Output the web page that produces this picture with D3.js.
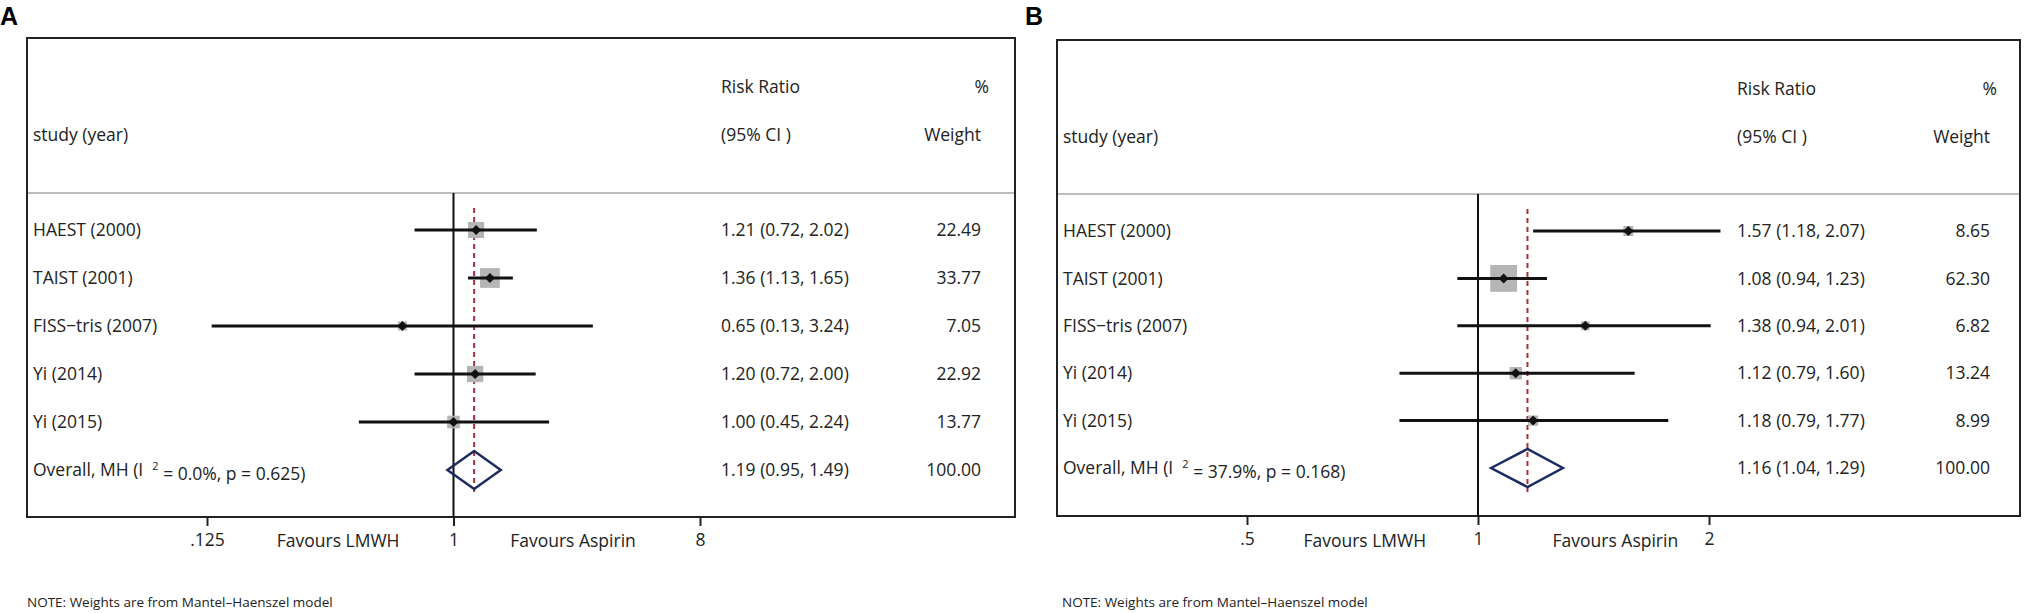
<!DOCTYPE html>
<html>
<head>
<meta charset="utf-8">
<script src="https://cdn.jsdelivr.net/npm/d3@7"></script>
<style>
  body { margin: 0; background: #fff; }
  svg { display: block; font-family: "Open Sans", sans-serif; }
  .axis path.domain { display: none; }
  .axis line { stroke: #222; stroke-width: 2; }
  .axis text { font-family: "Open Sans", sans-serif; font-size: 17.5px; fill: #222; }
</style>
</head>
<body>
<svg></svg>
<script>
/* data */
var studies = ["HAEST (2000)", "TAIST (2001)", "FISS\u2212tris (2007)", "Yi (2014)", "Yi (2015)"];

var rrA = [1.21, 1.36, 0.65, 1.20, 1.00];
var loA = [0.72, 1.13, 0.13, 0.72, 0.45];
var hiA = [2.02, 1.65, 3.24, 2.00, 2.24];
var weightA = [22.49, 33.77, 7.05, 22.92, 13.77];
var overallA = [1.19, 0.95, 1.49];
var hetA = ["0.0%", "0.625"];
var ticksA = [0.125, 1, 8];
var tickLabelsA = [".125", "1", "8"];

var rrB = [1.57, 1.08, 1.38, 1.12, 1.18];
var loB = [1.18, 0.94, 0.94, 0.79, 0.79];
var hiB = [2.07, 1.23, 2.01, 1.60, 1.77];
var weightB = [8.65, 62.30, 6.82, 13.24, 8.99];
var overallB = [1.16, 1.04, 1.29];
var hetB = ["37.9%", "0.168"];
var ticksB = [0.5, 1, 2];
var tickLabelsB = [".5", "1", "2"];

/* svg setting */
var svgWidth = 2034;
var svgHeight = 613;
var svg = d3.select("svg")
    .attr("width", svgWidth)
    .attr("height", svgHeight);

var panels = [
  {letter: "A", rr: rrA, lo: loA, hi: hiA, w: weightA, overall: overallA, het: hetA,
   ticks: ticksA, tickLabels: tickLabelsA, fav: [0.378, 2.74],
   box: {left: 27, right: 1015, top: 38, sep: 193, bottom: 517},
   xDomain: [0.125, 8], xRange: [207, 700], rowRange: [230, 470],
   col: {study: 33, ci: 721, weight: 981, pct: 989}, head: [87, 135], letterX: 0},
  {letter: "B", rr: rrB, lo: loB, hi: hiB, w: weightB, overall: overallB, het: hetB,
   ticks: ticksB, tickLabels: tickLabelsB, fav: [0.712, 1.51],
   box: {left: 1057, right: 2020, top: 40, sep: 194, bottom: 516},
   xDomain: [0.5, 2], xRange: [1247, 1709], rowRange: [231, 468],
   col: {study: 1063, ci: 1737, weight: 1990, pct: 1997}, head: [89, 137], letterX: 1025}
];

panels.forEach(drawPanel);

function drawPanel(p){
  var g = svg.append("g");
  var b = p.box;

  var x = d3.scaleLog().base(2)
      .domain(p.xDomain)
      .range(p.xRange);
  var y = d3.scalePoint()
      .domain(d3.range(studies.length + 1))
      .range(p.rowRange);

  var rows = studies.map(function(s, i){
    return {name: s, rr: p.rr[i], lo: p.lo[i], hi: p.hi[i], w: p.w[i], i: i};
  });

  /* panel letter */
  g.append("text")
      .attr("x", p.letterX)
      .attr("y", 25)
      .style("font-family", "'Liberation Sans', Arial, sans-serif")
      .style("font-weight", "bold")
      .style("font-size", "25px")
      .text(p.letter);

  /* frame */
  g.append("line")
      .attr("x1", b.left).attr("x2", b.right)
      .attr("y1", b.sep).attr("y2", b.sep)
      .attr("stroke", "#bdbdbd").attr("stroke-width", 2);
  g.append("rect")
      .attr("x", b.left).attr("y", b.top)
      .attr("width", b.right - b.left).attr("height", b.bottom - b.top)
      .attr("fill", "none").attr("stroke", "#222").attr("stroke-width", 2);

  /* null line */
  g.append("line")
      .attr("x1", x(1)).attr("x2", x(1))
      .attr("y1", b.sep).attr("y2", b.bottom)
      .attr("stroke", "#111").attr("stroke-width", 2);

  /* overall dashed line */
  g.append("line")
      .attr("x1", x(p.overall[0])).attr("x2", x(p.overall[0]))
      .attr("y1", b.sep + 15).attr("y2", b.bottom - 24)
      .attr("stroke", "#a3303a").attr("stroke-width", 2)
      .attr("stroke-dasharray", "5,4");

  /* weight boxes */
  g.selectAll("rect.wbox")
      .data(rows)
      .enter()
      .append("rect")
      .attr("class", "wbox")
      .attr("x", function(d){ return x(d.rr) - 1.7 * Math.sqrt(d.w); })
      .attr("y", function(d){ return y(d.i) - 1.7 * Math.sqrt(d.w); })
      .attr("width", function(d){ return 3.4 * Math.sqrt(d.w); })
      .attr("height", function(d){ return 3.4 * Math.sqrt(d.w); })
      .attr("fill", "#b5b5b5");

  /* confidence intervals */
  g.selectAll("line.ci")
      .data(rows)
      .enter()
      .append("line")
      .attr("class", "ci")
      .attr("x1", function(d){ return x(d.lo); })
      .attr("x2", function(d){ return x(d.hi); })
      .attr("y1", function(d){ return y(d.i); })
      .attr("y2", function(d){ return y(d.i); })
      .attr("stroke", "#111").attr("stroke-width", 3);

  /* point estimates */
  g.selectAll("path.pt")
      .data(rows)
      .enter()
      .append("path")
      .attr("class", "pt")
      .attr("d", function(d){
        var cx = x(d.rr), cy = y(d.i);
        return "M" + (cx - 5) + "," + cy + "L" + cx + "," + (cy - 5) +
               "L" + (cx + 5) + "," + cy + "L" + cx + "," + (cy + 5) + "Z";
      })
      .attr("fill", "#111");

  /* overall diamond */
  var oy = y(studies.length);
  g.append("path")
      .attr("d", "M" + x(p.overall[1]) + "," + oy +
                 "L" + x(p.overall[0]) + "," + (oy - 19) +
                 "L" + x(p.overall[2]) + "," + oy +
                 "L" + x(p.overall[0]) + "," + (oy + 19) + "Z")
      .attr("fill", "none").attr("stroke", "#1d2c5e").attr("stroke-width", 2.5);

  /* header text */
  var txt = function(xp, yp, s, anchor){
    return g.append("text")
        .attr("x", xp).attr("y", yp)
        .attr("dy", "0.35em")
        .attr("text-anchor", anchor || "start")
        .style("font-size", "17.5px")
        .style("fill", "#222")
        .text(s);
  };
  txt(p.col.ci, p.head[0], "Risk Ratio");
  txt(p.col.pct, p.head[0], "%", "end");
  txt(p.col.study, p.head[1], "study (year)");
  txt(p.col.ci, p.head[1], "(95% CI )");
  txt(p.col.weight, p.head[1], "Weight", "end");

  /* row text */
  rows.forEach(function(d){
    txt(p.col.study, y(d.i), d.name);
    txt(p.col.ci, y(d.i), d.rr.toFixed(2) + " (" + d.lo.toFixed(2) + ", " + d.hi.toFixed(2) + ")");
    txt(p.col.weight, y(d.i), d.w.toFixed(2), "end");
  });

  /* overall row text */
  var ot = txt(p.col.study, oy, "Overall, MH (I\u00a0\u00a0");
  ot.append("tspan").attr("dy", "-0.6em").style("font-size", "11px").text("2");
  ot.append("tspan").attr("dy", "0.6em").text(" = " + p.het[0] + ", p = " + p.het[1] + ")");
  txt(p.col.ci, oy, p.overall[0].toFixed(2) + " (" + p.overall[1].toFixed(2) + ", " + p.overall[2].toFixed(2) + ")");
  txt(p.col.weight, oy, d3.sum(p.w).toFixed(2), "end");

  /* x axis */
  g.append("g")
      .attr("class", "axis")
      .attr("transform", "translate(0," + b.bottom + ")")
      .call(d3.axisBottom(x)
        .tickValues(p.ticks)
        .tickSize(9)
        .tickPadding(8)
        .tickFormat(function(d, i){ return p.tickLabels[i]; }));

  txt(x(p.fav[0]), 541, "Favours LMWH", "middle");
  txt(x(p.fav[1]), 541, "Favours Aspirin", "middle");

  /* note */
  g.append("text")
      .attr("x", b.left + (p.letter === "A" ? 0 : 5))
      .attr("y", 602)
      .attr("dy", "0.35em")
      .style("font-size", "13.5px")
      .style("fill", "#222")
      .text("NOTE: Weights are from Mantel\u2013Haenszel model");
}
</script>
</body>
</html>
